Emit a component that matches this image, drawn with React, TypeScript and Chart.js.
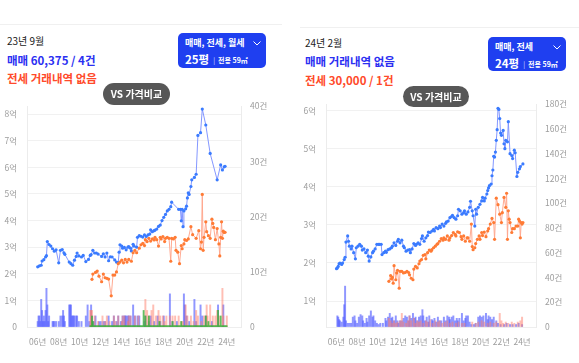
import React, { useEffect, useRef } from 'react';
import { Chart, registerables } from 'chart.js';
Chart.register(...registerables);

const FONT = "'Noto Sans CJK KR', 'Noto Sans', sans-serif";

// x-axis tick labels (2-digit years) ; x values are month indexes from 2006-01
const X_TICK_YEARS = [6, 8, 10, 12, 14, 16, 18, 20, 22, 24];

// ---------- LEFT PANEL (23년 9월) ----------
const L_SALE_MONTHS = [0, 2, 4, 5, 7, 9, 10, 11, 13, 15, 17, 19, 21, 24, 26, 28, 30, 31, 36, 38, 40, 42, 44, 45, 47, 50, 52, 55, 58, 60, 61, 63, 65, 67, 69, 73, 75, 77, 79, 81, 83, 85, 88, 90, 92, 93, 94, 96, 97, 99, 101, 103, 104, 106, 107, 109, 110, 113, 114, 116, 118, 120, 122, 124, 126, 128, 129, 131, 133, 134, 136, 138, 140, 142, 144, 146, 148, 150, 152, 153, 161, 163, 164, 165, 166, 167, 169, 170, 171, 172, 173, 175, 176, 179, 181, 183, 186, 188, 192, 197, 205, 209, 211, 213, 214];
const L_SALE_PRICES = [2.26, 2.30, 2.32, 2.48, 2.53, 2.63, 2.68, 3.21, 3.10, 3.04, 2.94, 2.85, 2.90, 2.41, 2.88, 2.91, 2.79, 2.73, 2.44, 2.38, 2.32, 2.51, 2.65, 2.78, 2.67, 2.63, 2.69, 2.46, 2.54, 2.69, 2.72, 2.88, 2.78, 2.78, 2.74, 2.65, 2.75, 2.63, 2.78, 2.49, 2.64, 2.63, 2.52, 2.44, 2.42, 2.81, 3.09, 3.04, 2.96, 2.99, 2.90, 3.00, 3.02, 2.96, 2.86, 3.11, 3.04, 3.00, 3.37, 3.43, 3.41, 3.38, 3.46, 3.40, 3.46, 3.49, 3.65, 3.58, 3.62, 3.64, 3.68, 3.78, 3.83, 4.00, 4.12, 4.23, 4.36, 4.42, 4.52, 4.69, 4.42, 4.42, 3.99, 4.42, 3.77, 4.36, 4.44, 4.54, 4.85, 5.04, 4.98, 5.28, 5.53, 5.62, 5.74, 7.20, 7.30, 8.19, 7.59, 6.52, 5.53, 6.09, 5.90, 6.02, 6.04];

const L_JEONSE_MONTHS = [62, 63, 66, 68, 70, 73, 75, 77, 79, 81, 84, 86, 88, 90, 92, 94, 96, 98, 100, 102, 104, 107, 109, 111, 113, 116, 118, 120, 122, 123, 125, 127, 129, 131, 133, 134, 136, 138, 140, 141, 143, 145, 146, 148, 150, 152, 153, 155, 157, 158, 160, 162, 164, 165, 167, 168, 170, 172, 175, 177, 181, 184, 186, 187, 188, 189, 190, 192, 193, 195, 197, 199, 200, 201, 203, 205, 207, 208, 209, 210, 211, 212, 213, 214];
const L_JEONSE_PRICES = [1.79, 1.99, 2.05, 2.10, 1.91, 1.70, 1.99, 1.85, 1.83, 1.80, 1.17, 1.95, 1.95, 2.07, 2.38, 2.44, 2.51, 2.41, 2.54, 2.44, 2.54, 2.47, 2.79, 2.88, 2.79, 2.96, 3.09, 3.14, 3.06, 3.28, 3.21, 3.33, 3.23, 3.31, 3.27, 3.37, 3.28, 3.04, 3.37, 3.31, 3.40, 3.21, 3.33, 3.37, 3.33, 2.47, 3.33, 3.31, 3.37, 2.88, 2.81, 2.38, 3.06, 2.94, 3.12, 3.28, 3.25, 3.31, 3.77, 3.47, 3.33, 3.62, 2.94, 3.19, 4.98, 2.88, 3.37, 3.95, 3.58, 3.43, 3.33, 4.05, 3.89, 3.74, 3.28, 3.70, 3.12, 2.67, 3.37, 3.95, 3.33, 3.60, 3.55, 3.56];

const L_SALE_CNT_MONTHS = [0, 1, 2, 3, 4, 5, 6, 7, 8, 9, 10, 11, 12, 13, 17, 18, 19, 21, 24, 26, 28, 29, 30, 31, 36, 37, 38, 39, 40, 41, 42, 44, 45, 47, 50, 55, 57, 59, 61, 62, 64, 66, 70, 72, 75, 77, 81, 85, 87, 90, 92, 95, 97, 99, 100, 101, 103, 104, 106, 109, 111, 114, 116, 122, 123, 127, 129, 133, 137, 140, 144, 151, 154, 159, 167, 168, 170, 173, 179, 181, 186, 188, 192, 199, 206, 212];
const L_SALE_CNT = [1, 2, 2, 1, 5, 3, 1, 2, 1, 3, 7, 4, 1, 2, 1, 1, 1, 1, 1, 2, 2, 3, 2, 1, 4, 4, 4, 2, 2, 2, 2, 2, 2, 1, 1, 2, 4, 1, 4, 2, 1, 2, 1, 1, 1, 1, 2, 1, 2, 1, 2, 1, 2, 2, 2, 2, 2, 2, 2, 4, 2, 2, 2, 1, 2, 1, 2, 1, 2, 1, 2, 6, 1, 1, 6, 4, 2, 1, 5, 1, 4, 2, 2, 1, 4, 4];

const L_JEONSE_CNT_MONTHS = [60, 61, 62, 65, 69, 74, 77, 79, 82, 87, 89, 92, 96, 97, 99, 103, 104, 106, 111, 115, 123, 125, 127, 130, 132, 135, 138, 140, 143, 145, 147, 151, 154, 157, 161, 164, 166, 169, 171, 175, 178, 181, 183, 187, 190, 193, 194, 197, 200, 203, 205, 207, 211, 212, 216];
const L_JEONSE_CNT = [3, 3, 3, 2, 1, 2, 1, 2, 1, 2, 1, 2, 1, 2, 2, 1, 2, 2, 2, 2, 5, 3, 2, 3, 4, 2, 3, 2, 2, 1, 2, 2, 2, 2, 2, 1, 1, 4, 2, 2, 1, 3, 2, 1, 2, 4, 2, 4, 2, 2, 3, 2, 7, 2, 2];

const L_RENT_CNT_MONTHS = [62, 63, 121, 123, 127, 139, 154, 164, 192, 195, 206, 209];
const L_RENT_CNT = [2, 1, 3, 2, 2, 1, 1, 1, 2, 1, 3, 2];
const L_RENT_FIRST = 60;
const L_RENT_LAST = 216;

// ---------- RIGHT PANEL (24년 2월) ----------
const R_SALE_MONTHS = [0, 1, 2, 3, 4, 6, 7, 9, 10, 11, 13, 14, 15, 17, 18, 20, 22, 23, 25, 27, 29, 30, 32, 34, 36, 37, 38, 40, 42, 43, 45, 47, 49, 50, 52, 53, 55, 57, 58, 60, 62, 64, 65, 67, 69, 71, 72, 74, 76, 78, 79, 81, 83, 85, 86, 88, 90, 92, 93, 95, 97, 99, 100, 102, 104, 106, 107, 109, 111, 113, 114, 116, 118, 120, 121, 123, 125, 127, 128, 130, 132, 134, 135, 137, 139, 141, 142, 144, 146, 148, 149, 151, 153, 155, 156, 158, 159, 161, 162, 163, 165, 167, 169, 170, 172, 173, 175, 176, 177, 178, 180, 181, 182, 183, 184, 185, 186, 187, 188, 189, 190, 191, 192, 194, 195, 196, 197, 199, 200, 202, 204, 205, 207, 208, 210, 211, 213, 214, 217];
const R_SALE_PRICES = [1.85, 1.87, 1.91, 1.98, 2.00, 1.96, 2.00, 2.09, 2.15, 2.55, 2.71, 2.57, 2.44, 2.37, 2.44, 2.27, 2.11, 2.40, 2.44, 2.49, 2.44, 2.34, 2.37, 2.27, 2.34, 2.18, 2.05, 2.16, 2.27, 2.31, 2.37, 2.49, 2.49, 2.49, 2.49, 2.22, 2.27, 2.31, 2.28, 2.35, 2.37, 2.40, 2.44, 2.53, 2.46, 2.57, 2.62, 2.53, 2.60, 2.44, 2.40, 2.31, 2.34, 2.35, 2.27, 2.37, 2.51, 2.46, 2.49, 2.53, 2.49, 2.64, 2.71, 2.57, 2.66, 2.72, 2.81, 2.80, 2.84, 2.88, 2.84, 2.93, 2.90, 2.97, 2.93, 3.02, 2.97, 3.04, 3.08, 3.10, 3.19, 3.22, 3.25, 3.19, 3.15, 3.24, 3.41, 3.37, 3.28, 3.32, 3.37, 3.28, 3.34, 3.46, 3.62, 3.37, 3.24, 2.97, 3.41, 3.28, 3.46, 3.54, 3.63, 3.72, 3.63, 3.70, 3.81, 3.90, 3.97, 4.03, 4.07, 4.29, 4.44, 4.80, 4.78, 4.91, 5.22, 5.50, 6.06, 6.03, 5.79, 5.41, 5.35, 5.48, 5.13, 5.00, 5.22, 5.18, 5.71, 4.87, 4.82, 4.74, 4.96, 4.89, 4.27, 4.38, 4.47, 4.53, 4.60];

const R_JEONSE_MONTHS = [61, 63, 64, 65, 66, 67, 69, 70, 71, 73, 74, 76, 78, 80, 82, 84, 85, 87, 89, 90, 92, 94, 96, 97, 99, 101, 103, 104, 106, 108, 110, 111, 113, 115, 117, 118, 120, 122, 124, 125, 127, 129, 131, 132, 134, 136, 138, 139, 141, 143, 145, 146, 148, 150, 152, 153, 155, 157, 158, 159, 161, 162, 164, 166, 167, 169, 170, 172, 174, 176, 177, 179, 181, 183, 184, 186, 188, 190, 192, 193, 195, 197, 198, 199, 200, 201, 202, 204, 205, 207, 209, 211, 212, 213, 214, 215, 216, 217];
const R_JEONSE_PRICES = [1.52, 1.67, 1.58, 1.62, 1.47, 1.93, 1.56, 1.74, 1.81, 1.34, 1.78, 1.78, 1.74, 1.75, 1.78, 1.75, 1.69, 1.60, 1.56, 1.84, 1.91, 1.87, 1.98, 2.05, 2.09, 2.20, 2.22, 2.11, 2.27, 2.34, 2.31, 2.35, 2.40, 2.44, 2.49, 2.51, 2.57, 2.64, 2.60, 2.66, 2.62, 2.71, 2.60, 2.66, 2.72, 2.80, 2.75, 2.71, 2.82, 2.80, 2.69, 2.62, 2.71, 2.57, 2.66, 2.66, 2.57, 3.02, 2.43, 2.35, 2.40, 2.51, 2.62, 2.71, 2.62, 2.80, 2.72, 2.81, 2.69, 2.84, 2.90, 3.02, 3.17, 3.06, 2.62, 3.70, 3.53, 3.28, 3.06, 3.32, 3.72, 3.46, 3.83, 2.62, 3.37, 3.15, 3.06, 2.80, 2.90, 2.90, 2.97, 2.97, 3.15, 3.10, 2.66, 3.06, 3.02, 3.06];

const R_SALE_CNT_MONTHS = [1, 2, 3, 4, 6, 8, 9, 10, 11, 13, 15, 17, 19, 21, 22, 24, 26, 28, 30, 31, 33, 35, 36, 38, 40, 42, 43, 45, 47, 49, 51, 54, 57, 58, 60, 62, 64, 65, 67, 69, 71, 72, 74, 76, 78, 80, 82, 84, 85, 87, 89, 91, 92, 94, 96, 98, 100, 101, 103, 105, 107, 108, 111, 112, 114, 116, 118, 120, 122, 125, 127, 129, 131, 132, 134, 136, 138, 140, 141, 143, 146, 148, 150, 151, 153, 155, 157, 160, 162, 165, 167, 169, 171, 174, 176, 177, 179, 181, 183, 186, 188, 191, 195, 198, 202, 205, 209, 212, 216];
const R_SALE_CNT = [9, 8, 6, 5, 4, 8, 18, 33, 5, 3, 3, 3, 8, 9, 5, 3, 8, 10, 9, 5, 3, 7, 4, 9, 13, 8, 9, 5, 3, 2, 3, 3, 7, 5, 8, 11, 7, 8, 5, 9, 5, 3, 5, 5, 7, 9, 8, 5, 9, 7, 11, 7, 8, 5, 8, 9, 14, 9, 5, 8, 4, 9, 6, 5, 7, 4, 8, 5, 5, 8, 5, 9, 8, 6, 8, 9, 5, 7, 5, 7, 11, 5, 7, 9, 9, 4, 2, 2, 3, 8, 9, 8, 9, 11, 6, 9, 8, 6, 8, 5, 3, 2, 2, 3, 2, 2, 2, 3, 2];

const R_JEONSE_CNT_MONTHS = [61, 63, 65, 67, 69, 71, 74, 76, 78, 81, 83, 85, 87, 90, 92, 94, 96, 98, 101, 104, 106, 109, 112, 115, 118, 120, 123, 126, 129, 132, 135, 139, 142, 146, 149, 158, 162, 165, 169, 172, 176, 179, 183, 186, 190, 192, 194, 197, 200, 204, 207, 211, 214, 216];
const R_JEONSE_CNT = [7, 5, 3, 5, 3, 4, 5, 11, 4, 3, 5, 9, 5, 7, 3, 5, 4, 5, 3, 5, 4, 6, 3, 5, 4, 5, 3, 4, 5, 3, 4, 3, 4, 3, 3, 4, 3, 4, 5, 4, 3, 4, 3, 4, 11, 5, 3, 4, 3, 4, 3, 4, 5, 8];

// ---------- helpers ----------
const pts = (ms: number[], vs: number[]) => ms.map((m, i) => ({ x: m, y: vs[i] }));

function monthlyFilled(first: number, last: number, ms: number[], vs: number[]) {
  const out: { x: number; y: number }[] = [];
  for (let m = first; m <= last; m++) {
    const idx = ms.indexOf(m);
    out.push({ x: m, y: idx >= 0 ? vs[idx] : 0 });
  }
  return out;
}

type ChartSpec = {
  saleM: number[]; saleP: number[];
  jeonseM: number[]; jeonseP: number[];
  saleCntM: number[]; saleCnt: number[];
  jeonseCntM: number[]; jeonseCnt: number[];
  rent?: { x: number; y: number }[];
  yMin: number; yMax: number;
  y1Max: number; y1Step: number;
  leftW: number; rightW: number; padTop: number;
};

const TICK_COLOR = '#9d9d9d';
const TICK_FONT = { family: FONT, size: 8.5 };

function buildConfig(s: ChartSpec): any {
  const datasets: any[] = [
    {
      type: 'line', label: '전세', data: pts(s.jeonseM, s.jeonseP), yAxisID: 'y',
      borderColor: 'rgba(255,165,140,0.95)', borderWidth: 1, pointRadius: 1.6,
      pointBackgroundColor: '#ff7b35', pointBorderWidth: 0, tension: 0, order: 0,
    },
    {
      type: 'line', label: '매매', data: pts(s.saleM, s.saleP), yAxisID: 'y',
      borderColor: 'rgba(125,145,255,0.95)', borderWidth: 1, pointRadius: 1.6,
      pointBackgroundColor: '#3a7bff', pointBorderWidth: 0, tension: 0, order: 1,
    },
  ];
  if (s.rent) {
    datasets.push({
      type: 'bar', label: '월세건수', data: s.rent, yAxisID: 'y1',
      backgroundColor: 'rgba(60,175,60,0.8)', barThickness: 1.2, minBarLength: 1.2,
      grouped: false, order: 2,
    });
  }
  datasets.push({
    type: 'bar', label: '전세건수', data: pts(s.jeonseCntM, s.jeonseCnt), yAxisID: 'y1',
    backgroundColor: 'rgba(255,125,105,0.5)', barThickness: 1.3, grouped: false, order: 3,
  });
  datasets.push({
    type: 'bar', label: '매매건수', data: pts(s.saleCntM, s.saleCnt), yAxisID: 'y1',
    backgroundColor: 'rgba(85,95,255,0.65)', barThickness: 1.3, grouped: false, order: 4,
  });

  return {
    type: 'bar',
    data: { datasets },
    options: {
      animation: false,
      responsive: false,
      devicePixelRatio: 1,
      layout: { padding: { top: s.padTop, left: 0, right: 0, bottom: 0 } },
      plugins: { legend: { display: false }, tooltip: { enabled: false } },
      scales: {
        x: {
          type: 'linear', min: 0, max: 220,
          grid: { display: false, drawTicks: false },
          border: { display: true, color: '#eeeeee' },
          ticks: {
            color: TICK_COLOR, font: TICK_FONT, padding: 10, maxRotation: 0, autoSkip: false,
            callback: (v: number) => `${String(6 + v / 12).padStart(2, '0')}년`,
          },
          afterBuildTicks: (axis: any) => { axis.ticks = X_TICK_YEARS.map((y) => ({ value: (y - 6) * 12 })); },
          afterFit: (sc: any) => { sc.height = 36; },
        },
        y: {
          position: 'left', min: s.yMin, max: s.yMax,
          grid: { color: '#f1f1f1', drawTicks: false },
          border: { display: true, color: '#ececec' },
          ticks: {
            color: TICK_COLOR, font: TICK_FONT, padding: 10, autoSkip: false,
            callback: (v: number) => (v === 0 ? '0' : `${v}억`),
          },
          afterBuildTicks: (axis: any) => {
            const t: any[] = [];
            for (let v = Math.ceil(s.yMin); v <= Math.floor(s.yMax); v++) t.push({ value: v });
            axis.ticks = t;
          },
          afterFit: (sc: any) => { sc.width = s.leftW; },
        },
        y1: {
          position: 'right', min: 0, max: s.y1Max,
          grid: { drawOnChartArea: false, drawTicks: false },
          border: { display: true, color: '#ececec' },
          ticks: {
            color: TICK_COLOR, font: TICK_FONT, padding: 9, stepSize: s.y1Step, autoSkip: false,
            callback: (v: number) => (v === 0 ? '0' : `${v}건`),
          },
          afterFit: (sc: any) => { sc.width = s.rightW; },
        },
      },
    },
  };
}

function ChartCanvas({ spec, left, top, width, height }: { spec: ChartSpec; left: number; top: number; width: number; height: number }) {
  const ref = useRef<HTMLCanvasElement>(null);
  useEffect(() => {
    const chart = new Chart(ref.current as HTMLCanvasElement, buildConfig(spec));
    return () => chart.destroy();
  }, []);
  return (
    <canvas ref={ref} width={width} height={height}
      style={{ position: 'absolute', left, top, width, height, zIndex: 1 }} />
  );
}

const abs = (l: number, t: number, extra: React.CSSProperties = {}): React.CSSProperties => ({
  position: 'absolute', left: l, top: t, whiteSpace: 'nowrap', fontFamily: FONT, ...extra,
});

function Chevron({ left, top }: { left: number; top: number }) {
  return (
    <svg style={{ position: 'absolute', left, top }} width="8" height="5" viewBox="0 0 8 5">
      <polyline points="0.5,0.5 4,4 7.5,0.5" fill="none" stroke="#fff" strokeWidth="1" />
    </svg>
  );
}

function Button({ left, top, width, height, kinds, pyeong }: { left: number; top: number; width: number; height: number; kinds: string; pyeong: string }) {
  return (
    <div style={{ ...abs(left, top), width, height, background: '#1f3ff0', borderRadius: 5, color: '#fff', zIndex: 2 }}>
      <div style={abs(7, 3, { fontSize: 9, fontWeight: 700, lineHeight: '14px' })}>{kinds}</div>
      <Chevron left={width - 13} top={8} />
      <div style={abs(7, 19, { fontSize: 11.5, fontWeight: 700, lineHeight: '15px' })}>
        {pyeong}
        <span style={{ fontSize: 7, fontWeight: 400, margin: '0 3px 0 4px', opacity: 0.8, verticalAlign: 1 }}>|</span>
        <span style={{ fontSize: 7, fontWeight: 700, verticalAlign: 1 }}>전용 59㎡</span>
      </div>
    </div>
  );
}

function Pill({ left, top, width, height }: { left: number; top: number; width: number; height: number }) {
  return (
    <div style={{ ...abs(left, top), width, height, background: '#575757', borderRadius: height / 2, color: '#fff',
      fontSize: 10, fontWeight: 700, lineHeight: `${height}px`, textAlign: 'center', zIndex: 2 }}>
      VS 가격비교
    </div>
  );
}

const leftSpec: ChartSpec = {
  saleM: L_SALE_MONTHS, saleP: L_SALE_PRICES,
  jeonseM: L_JEONSE_MONTHS, jeonseP: L_JEONSE_PRICES,
  saleCntM: L_SALE_CNT_MONTHS, saleCnt: L_SALE_CNT,
  jeonseCntM: L_JEONSE_CNT_MONTHS, jeonseCnt: L_JEONSE_CNT,
  rent: monthlyFilled(L_RENT_FIRST, L_RENT_LAST, L_RENT_CNT_MONTHS, L_RENT_CNT),
  yMin: 0, yMax: 8.3, y1Max: 40, y1Step: 10,
  leftW: 27, rightW: 41, padTop: 3,
};

const rightSpec: ChartSpec = {
  saleM: R_SALE_MONTHS, saleP: R_SALE_PRICES,
  jeonseM: R_JEONSE_MONTHS, jeonseP: R_JEONSE_PRICES,
  saleCntM: R_SALE_CNT_MONTHS, saleCnt: R_SALE_CNT,
  jeonseCntM: R_JEONSE_CNT_MONTHS, jeonseCnt: R_JEONSE_CNT,
  yMin: 0.32, yMax: 6.17, y1Max: 180, y1Step: 20,
  leftW: 36, rightW: 43, padTop: 3,
};

export default function App() {
  return (
    <div style={{ position: 'absolute', left: 0, top: 0, width: 579, height: 363, background: '#fff', overflow: 'hidden' }}>
      {/* left panel */}
      <div style={{ ...abs(0, 24), width: 282, height: 1, background: '#f0f0f0' }} />
      <div style={abs(7, 34, { fontSize: 10, color: '#222', lineHeight: '14px' })}>23년 9월</div>
      <div style={abs(7, 52, { fontSize: 11.5, fontWeight: 700, color: '#2b2ff2', lineHeight: '16px' })}>매매 60,375 / 4건</div>
      <div style={abs(7, 70, { fontSize: 11.5, fontWeight: 700, color: '#ff4a2a', lineHeight: '16px' })}>전세 거래내역 없음</div>
      <Button left={178} top={33} width={88} height={35} kinds="매매, 전세, 월세" pyeong="25평" />
      <Pill left={103} top={83} width={67} height={22} />
      <ChartCanvas spec={leftSpec} left={0} top={91} width={282} height={272} />

      {/* right panel */}
      <div style={{ ...abs(300, 27), width: 279, height: 1, background: '#f0f0f0' }} />
      <div style={abs(305, 36, { fontSize: 10, color: '#222', lineHeight: '14px' })}>24년 2월</div>
      <div style={abs(305, 53, { fontSize: 11.5, fontWeight: 700, color: '#2b2ff2', lineHeight: '16px' })}>매매 거래내역 없음</div>
      <div style={abs(305, 72, { fontSize: 11.5, fontWeight: 700, color: '#ff4a2a', lineHeight: '16px' })}>전세 30,000 / 1건</div>
      <Button left={488} top={37} width={78} height={34} kinds="매매, 전세" pyeong="24평" />
      <Pill left={403} top={86} width={66} height={21} />
      <ChartCanvas spec={rightSpec} left={290} top={89} width={289} height={274} />
    </div>
  );
}
